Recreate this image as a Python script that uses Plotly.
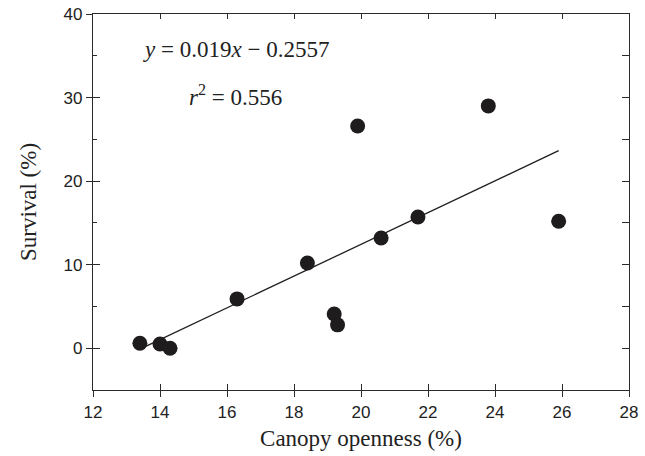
import plotly.graph_objects as go

# Data
canopy_openness = [13.4, 14.0, 14.3, 16.3, 18.4, 19.2, 19.3, 19.9, 20.6, 21.7, 23.8, 25.9]
survival = [0.6, 0.5, 0.0, 5.9, 10.2, 4.1, 2.8, 26.6, 13.2, 15.7, 29.0, 15.2]

# Printed regression (fraction units) and the x-extent of the fitted line
fit_slope = 0.019
fit_intercept = -0.2557
fit_x = [13.4, 25.9]
fit_y = [100 * (fit_slope * x + fit_intercept) for x in fit_x]

x_ticks = [12, 14, 16, 18, 20, 22, 24, 26, 28]
y_ticks = [0, 10, 20, 30, 40]

AX = "#2a2a2a"
TICKFONT = dict(family="Liberation Sans, Arial, sans-serif", size=17, color="#222")
TITLEFONT = dict(family="Liberation Serif, Times New Roman, serif", size=23, color="#222")

fig = go.Figure()
fig.add_trace(go.Scatter(x=fit_x, y=fit_y, mode="lines",
                         line=dict(color="#1e1e1e", width=1.3), showlegend=False,
                         hoverinfo="skip"))
fig.add_trace(go.Scatter(x=canopy_openness, y=survival, mode="markers",
                         marker=dict(size=15, color="#1e1c1d"), showlegend=False))

xr = [12, 28]
yr = [-5, 40]

fig.update_layout(
    width=645, height=456,
    margin=dict(l=93, r=16, t=14, b=66, autoexpand=False),
    paper_bgcolor="white", plot_bgcolor="white",
    showlegend=False,
    xaxis=dict(range=xr, tickvals=x_ticks, ticks="outside", ticklen=6, automargin=False,
               tickcolor=AX, tickwidth=1.2, showline=True, linecolor=AX, linewidth=1.2,
               showgrid=False, zeroline=False, tickfont=TICKFONT,
               title=dict(text="Canopy openness (%)", font=TITLEFONT, standoff=9)),
    xaxis2=dict(range=xr, overlaying="x", anchor="y", side="bottom", tickvals=x_ticks,
                ticks="inside", ticklen=6, tickcolor=AX, tickwidth=1.2, automargin=False,
                showticklabels=False, showgrid=False, zeroline=False, showline=False),
    xaxis3=dict(range=xr, overlaying="x", anchor="y", side="top", tickvals=x_ticks,
                ticks="inside", ticklen=5, tickcolor=AX, tickwidth=1.2, automargin=False,
                showticklabels=False, showgrid=False, zeroline=False,
                showline=True, linecolor=AX, linewidth=1.2),
    yaxis=dict(range=yr, tickvals=y_ticks, ticks="outside", ticklen=6, automargin=False,
               tickcolor=AX, tickwidth=1.2, showline=True, linecolor=AX, linewidth=1.2,
               showgrid=False, zeroline=False, tickfont=TICKFONT,
               title=dict(text="Survival (%)", font=TITLEFONT, standoff=20)),
    yaxis2=dict(range=yr, overlaying="y", anchor="x", side="left", tickvals=y_ticks,
                ticks="inside", ticklen=7, tickcolor=AX, tickwidth=1.2, automargin=False,
                minor=dict(tickvals=[-5, 5, 15, 25, 35], ticks="inside", ticklen=4,
                           tickcolor=AX, tickwidth=1.2),
                showticklabels=False, showgrid=False, zeroline=False, showline=False),
    yaxis3=dict(range=yr, overlaying="y", anchor="x", side="right",
                tickvals=[-5, 0, 5, 10, 15, 20, 25, 30, 35, 40], automargin=False,
                ticks="inside", ticklen=7, tickcolor=AX, tickwidth=1.2,
                showticklabels=False, showgrid=False, zeroline=False,
                showline=True, linecolor=AX, linewidth=1.2),
)

# invisible traces so overlay axes are drawn
fig.add_trace(go.Scatter(x=[None], y=[None], xaxis="x2", yaxis="y2", showlegend=False))
fig.add_trace(go.Scatter(x=[None], y=[None], xaxis="x3", yaxis="y3", showlegend=False))

ANNFONT = dict(family="Liberation Serif, Times New Roman, serif", size=23, color="#222")
fig.add_annotation(x=16.28, y=35.7, xref="x", yref="y", showarrow=False,
                   text="<i>y</i> = 0.019<i>x</i> \u2212 0.2557", font=ANNFONT)
fig.add_annotation(x=16.25, y=30.2, xref="x", yref="y", showarrow=False,
                   text="<i>r</i><sup>2</sup> = 0.556", font=ANNFONT)

fig.write_html("out.html")
